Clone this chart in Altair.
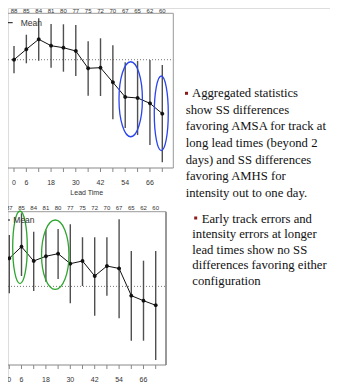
import altair as alt
import pandas as pd

# ---------------- data ----------------
lead = [0, 6, 12, 18, 24, 30, 36, 42, 48, 54, 60, 66, 72]
tick_labels = [0, 6, 18, 30, 42, 54, 66]

top_counts = [88, 85, 84, 81, 80, 77, 75, 72, 70, 67, 65, 62, 60]
top_mean = [0.00, 1.35, 2.64, 1.81, 1.55, 1.13, -1.11, -1.03, -2.92, -4.82, -4.95, -5.64, -6.98]
top_hi = [1.77, 3.23, 5.35, 4.62, 4.58, 4.49, 2.38, 2.77, 1.86, -0.33, -0.17, -0.04, -0.68]
top_lo = [-1.76, -0.46, -0.13, -1.03, -1.55, -2.11, -4.65, -4.69, -7.70, -8.83, -9.74, -11.03, -13.26]

bot_counts = [87, 85, 84, 81, 80, 77, 75, 72, 70, 67, 65, 62, 60]
bot_mean = [3.57, 5.05, 3.23, 3.83, 4.16, 2.89, 3.23, 1.32, 2.59, 2.28, -1.18, -1.82, -2.40]
bot_hi = [6.54, 9.30, 6.96, 7.20, 7.30, 7.90, 6.25, 6.25, 6.25, 8.53, 4.50, 3.27, 4.50]
bot_lo = [-0.88, 1.32, -0.59, 0.60, 0.94, -2.15, 0.05, -3.73, -1.18, -4.06, -6.91, -6.91, -9.36]

# highlight rings: centre (lead, value), horizontal / vertical radius in px
top_ring_lead = [56.66, 71.5]
top_ring_val = [-5.11, -6.93]
top_ring_rx = [11.7, 7.0]
top_ring_ry = [37.5, 37.3]

bot_ring_lead = [5.26, 22.6]
bot_ring_val = [4.97, 4.03]
bot_ring_rx = [7.3, 13.7]
bot_ring_ry = [36.3, 34.7]

block1_first = "Aggregated statistics"
block1_rest = ["show SS differences",
               "favoring AMSA for track at", "long lead times (beyond 2",
               "days) and SS differences", "favoring AMHS for",
               "intensity out to one day."]
block2_first = "Early track errors and"
block2_rest = ["intensity errors at longer",
               "lead times show no SS", "differences favoring either",
               "configuration"]

# ---------------- scales ----------------
def sc(domain, rng):
    return alt.Scale(domain=domain, range=rng, nice=False, zero=False)

xs_t = sc([0, 72], [6, 154.3])
ys_t = sc([-14, 6], [160, 5.3])
xs_b = sc([0, 72], [1.3, 147.7])
ys_b = sc([-10, 9.5], [357, 203.7])

SANS = "Liberation Sans"
SERIF = "Liberation Serif"


def ellipse_path(a):
    k = 0.5523
    return (f"M {a},0 C {a},{k} {a*k:.4f},1 0,1 C {-a*k:.4f},1 {-a},{k} {-a},0 "
            f"C {-a},{-k} {-a*k:.4f},-1 0,-1 C {a*k:.4f},-1 {a},{-k} {a},0 Z")


def panel(xs, ys, counts, mean, lo, hi, ring_lead, ring_val, ring_rx, ring_ry,
          ring_color, right_px, top_px, axis_px, count_px, label_px,
          legend_y, legend_x2, legend_tx, border_w, title_px=None):
    df = pd.DataFrame({"lead": lead, "mean": mean, "lo": lo, "hi": hi, "n": counts})
    ticks = pd.DataFrame({"lead": lead})
    labs = pd.DataFrame({"lead": tick_labels, "lab": [str(t) for t in tick_labels]})
    zero = pd.DataFrame({"v": [0]})
    X = alt.X("lead:Q", scale=xs, axis=None)
    layers = []
    # zero reference line
    layers.append(alt.Chart(zero).mark_rule(color="#777", strokeDash=[1, 2], strokeWidth=1).encode(
        y=alt.Y("v:Q", scale=ys, axis=None), x=alt.value(0), x2=alt.value(right_px)))
    # frame
    layers.append(alt.Chart(zero).mark_rule(color="#999", strokeWidth=1).encode(
        x=alt.value(0), x2=alt.value(right_px), y=alt.value(top_px)))
    layers.append(alt.Chart(zero).mark_rule(color="#999", strokeWidth=border_w).encode(
        x=alt.value(right_px), y=alt.value(top_px), y2=alt.value(axis_px)))
    layers.append(alt.Chart(zero).mark_rule(color="#888", strokeWidth=1).encode(
        x=alt.value(0), x2=alt.value(right_px), y=alt.value(axis_px)))
    # ticks and labels
    layers.append(alt.Chart(ticks).mark_rule(color="#888", strokeWidth=1).encode(
        x=X, y=alt.value(axis_px), y2=alt.value(axis_px + 4)))
    layers.append(alt.Chart(labs).mark_text(font=SANS, fontSize=7, color="#333", baseline="middle").encode(
        x=X, y=alt.value(label_px), text="lab:N"))
    # sample counts
    layers.append(alt.Chart(df).mark_text(font=SANS, fontSize=6, color="#333", baseline="middle").encode(
        x=X, y=alt.value(count_px), text="n:Q"))
    # error bars
    layers.append(alt.Chart(df).mark_rule(color="#505050", strokeWidth=1.4).encode(
        x=X, y=alt.Y("lo:Q", scale=ys, axis=None), y2="hi:Q"))
    # mean line + markers
    layers.append(alt.Chart(df).mark_line(color="#111", strokeWidth=1).encode(
        x=X, y=alt.Y("mean:Q", scale=ys, axis=None)))
    layers.append(alt.Chart(df).mark_point(shape="square", filled=True, size=9, color="#111", opacity=1).encode(
        x=X, y=alt.Y("mean:Q", scale=ys, axis=None)))
    layers.append(alt.Chart(df).mark_point(shape="cross", filled=True, size=14, color="#111", opacity=1).encode(
        x=X, y=alt.Y("mean:Q", scale=ys, axis=None)))
    # rings
    for cl, cv, rx, ry in zip(ring_lead, ring_val, ring_rx, ring_ry):
        rdf = pd.DataFrame({"lead": [cl], "v": [cv]})
        layers.append(alt.Chart(rdf).mark_point(shape=ellipse_path(rx / ry), size=(2 * ry) ** 2,
                                                filled=False, stroke=ring_color, strokeWidth=1.3,
                                                opacity=1).encode(
            x=X, y=alt.Y("v:Q", scale=ys, axis=None)))
    # legend
    layers.append(alt.Chart(zero).mark_rule(color="#111", strokeWidth=1).encode(
        x=alt.value(0), x2=alt.value(legend_x2), y=alt.value(legend_y)))
    layers.append(alt.Chart(zero).mark_text(font=SANS, fontSize=8.5, color="#333", align="left",
                                            baseline="middle").encode(
        x=alt.value(legend_tx), y=alt.value(legend_y), text=alt.value("Mean")))
    if title_px is not None:
        layers.append(alt.Chart(zero).mark_text(font=SANS, fontSize=7, color="#333", baseline="middle").encode(
            x=alt.value(title_px[0]), y=alt.value(title_px[1]), text=alt.value("Lead Time")))
    return layers


top_layers = panel(xs_t, ys_t, top_counts, top_mean, top_lo, top_hi,
                   top_ring_lead, top_ring_val, top_ring_rx, top_ring_ry, "#2a44ee",
                   right_px=165.3, top_px=5.3, axis_px=160, count_px=2.6, label_px=175,
                   legend_y=14.7, legend_x2=4.7, legend_tx=12.7, border_w=1,
                   title_px=(78.7, 185.3))
bot_layers = panel(xs_b, ys_b, bot_counts, bot_mean, bot_lo, bot_hi,
                   bot_ring_lead, bot_ring_val, bot_ring_rx, bot_ring_ry, "#2ea52e",
                   right_px=158, top_px=203.7, axis_px=357, count_px=199.7, label_px=372,
                   legend_y=212, legend_x2=2, legend_tx=5.3, border_w=2)

blank = pd.DataFrame({"v": [0]})


def serif_text(txt, x, y, lh):
    return alt.Chart(blank).mark_text(font=SERIF, fontSize=12.7, color="#111", align="left",
                                      baseline="alphabetic", lineHeight=lh).encode(
        x=alt.value(x), y=alt.value(y), text=alt.value(txt))


text_layers = [
    serif_text(block1_first, 184, 89.3, 16.6),
    serif_text(block1_rest, 177.7, 105.9, 16.6),
    serif_text(block2_first, 193.7, 214.7, 15.6),
    serif_text(block2_rest, 184.3, 230.3, 15.6),
    alt.Chart(blank).mark_square(size=9, color="#8b1c1c", opacity=1).encode(
        x=alt.value(178.5), y=alt.value(85.3)),
    alt.Chart(blank).mark_square(size=9, color="#8b1c1c", opacity=1).encode(
        x=alt.value(187.7), y=alt.value(210)),
]

chart = alt.layer(*(top_layers + bot_layers + text_layers)).resolve_scale(
    x="independent", y="independent"
).properties(
    width=322, height=374, autosize=alt.AutoSizeParams(type="none"), padding=0
).configure_view(stroke=None).configure(background="white")

chart.save("out.html", embed_options={"renderer": "svg", "actions": False})
